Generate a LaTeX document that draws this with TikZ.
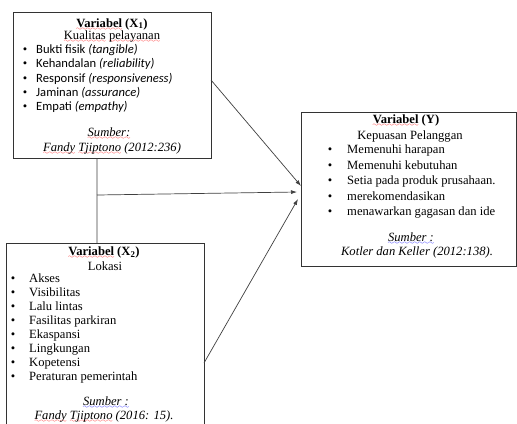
\documentclass[tikz,border=0pt]{standalone}
\usepackage{fontspec}
\setmainfont{Liberation Serif}
\newfontfamily\calfont{Carlito}
\usetikzlibrary{arrows.meta}
\font\wavefont=lasy6
\newcommand\wavy[2]{\leavevmode\setbox0\hbox{#2}\rlap{\textcolor{#1}{\lower3.2bp\hbox to\wd0{\xleaders\hbox{\wavefont\char58}\hfil}}}\box0\relax}
\begin{document}
\begin{tikzpicture}[x=1bp,y=-1bp,
  box/.style={draw=black!80,line width=0.9bp,inner sep=0,outer sep=0,rectangle},
  link/.style={draw=black!75,line width=0.7bp},
  arr/.style={link,-{Latex[length=6bp,width=4bp]}},
  txt/.style={inner sep=0,anchor=base,font=\fontsize{12.6bp}{14bp}\selectfont},
  ltxt/.style={txt,anchor=base west},
  ctxt/.style={txt,anchor=base west,font=\fontsize{12.6bp}{14bp}\selectfont\calfont}]
\clip (0,0) rectangle (517,423);
\fill[white] (0,0) rectangle (517,423);
% boxes
\node[box,minimum width=198bp,minimum height=146bp] (x1) at (112,85) {};
\node[box,minimum width=198bp,minimum height=207bp] (x2) at (105,346.5) {};
\node[box,minimum width=215bp,minimum height=154bp] (yb) at (408.5,189) {};
% X1 texts
\node[txt] (x1t) at (112,27) {\textbf{\wavy{red}{Variabel} (X\textsubscript{1})}};
\node[txt] (x1s) at (112,39) {\wavy{red}{Kualitas} \wavy{red}{pelayanan}};
\foreach \t [count=\i] in {Bukti fisik \textit{(tangible)},Kehandalan \textit{(reliability)},Responsif \textit{(responsiveness)},Jaminan \textit{(assurance)},Empati \textit{(empathy)}}{
  \node[txt] (x1b\i) at (25,53.5+14.25*\i-14.25) {•};
  \node[ctxt] (x1i\i) at (36,53.5+14.25*\i-14.25) {\t};
}
\node[txt] (x1r) at (109,136.5) {\textit{\wavy{red}{Sumber:}}};
\node[txt] (x1f) at (112,151.5) {\textit{\wavy{red}{Fandy} \wavy{red}{Tjiptono} (2012:236)}};
% X2 texts
\node[txt] (x2t) at (104,255.5) {\textbf{\wavy{red}{Variabel} (X\textsubscript{2})}};
\node[txt] (x2s) at (105,270.5) {Lokasi};
\foreach \t [count=\i] in {Akses,Visibilitas,Lalu lintas,Fasilitas parkiran,Ekaspansi,Lingkungan,Kopetensi,Peraturan pemerintah}{
  \node[txt] (x2b\i) at (13,282.5+14*\i-14) {•};
  \node[ltxt] (x2i\i) at (29,282.5+14*\i-14) {\t};
}
\node[txt] (x2r) at (106,405.5) {\textit{\wavy{blue}{Sumber :}}};
\node[txt] (x2f) at (104,419.5) {\textit{\wavy{red}{Fandy} \wavy{red}{Tjiptono} (2016: 15).}};
% Y texts
\node[txt] (yt) at (406,123.5) {\textbf{\wavy{red}{Variabel} (Y)}};
\node[txt] (ys) at (410,139.5) {Kepuasan Pelanggan};
\foreach \t [count=\i] in {Memenuhi harapan,Memenuhi kebutuhan,Setia pada produk prusahaan.,merekomendasikan,menawarkan gagasan dan ide}{
  \node[txt] (yb\i) at (330,153.5+15.5*\i-15.5) {•};
  \node[ltxt] (yi\i) at (347,153.5+15.5*\i-15.5) {\t};
}
\node[txt] (yr) at (411,241.5) {\textit{\wavy{blue}{Sumber :}}};
\node[txt] (yf) at (417,255.5) {\textit{Kotler dan Keller (2012:138).}};
% connectors
\coordinate (j) at (97,195);
\draw[link] ([xshift=-15bp]x1.south) -- ([xshift=-8bp]x2.north);
\draw[arr] (j) -- ([xshift=-4bp,yshift=-3bp]yb.west);
\draw[arr] ([yshift=5bp]x1.east) -- ([yshift=3bp]yb.west);
\draw[arr] ([yshift=-16.5bp]x2.east) -- ([xshift=-3bp,yshift=-10bp]yb.west);
\end{tikzpicture}
\end{document}
